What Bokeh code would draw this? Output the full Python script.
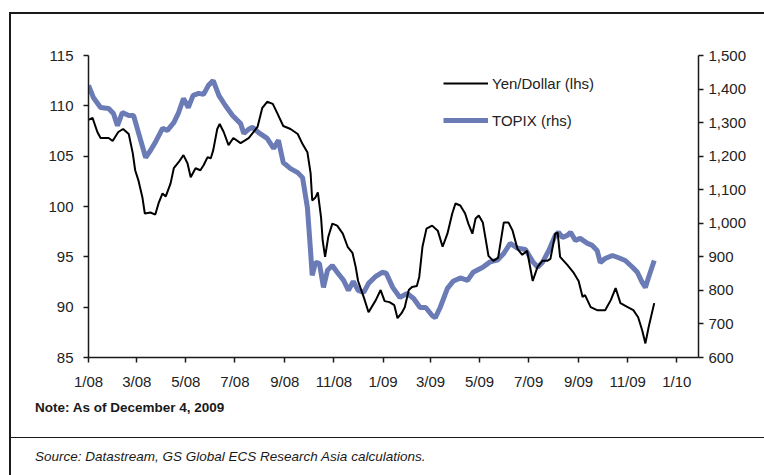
import pandas as pd
from bokeh.plotting import figure
from bokeh.layouts import column
from bokeh.models import (Range1d, LinearAxis, FixedTicker, NumeralTickFormatter,
                          DatetimeTickFormatter, MonthsTicker, Legend, LegendItem, Div)
from bokeh.embed import file_html
from bokeh.resources import INLINE

# ---------------- data ----------------
yen_dates = [
    "2008-01-01", "2008-01-06", "2008-01-12", "2008-01-16", "2008-01-26", "2008-01-31",
    "2008-02-07", "2008-02-13", "2008-02-20", "2008-02-25", "2008-02-28", "2008-03-03",
    "2008-03-08", "2008-03-11", "2008-03-18", "2008-03-24", "2008-03-28", "2008-04-02",
    "2008-04-06", "2008-04-12", "2008-04-16", "2008-04-22", "2008-04-28", "2008-05-03",
    "2008-05-07", "2008-05-13", "2008-05-19", "2008-05-23", "2008-05-28", "2008-06-01",
    "2008-06-04", "2008-06-09", "2008-06-12", "2008-06-17", "2008-06-23", "2008-06-29",
    "2008-07-08", "2008-07-18", "2008-07-29", "2008-08-04", "2008-08-10", "2008-08-17",
    "2008-08-23", "2008-08-30", "2008-09-08", "2008-09-17", "2008-09-23", "2008-09-29",
    "2008-10-03", "2008-10-05", "2008-10-09", "2008-10-12", "2008-10-16", "2008-10-18",
    "2008-10-21", "2008-10-25", "2008-10-30", "2008-11-05", "2008-11-12", "2008-11-18",
    "2008-11-24", "2008-11-28", "2008-12-01", "2008-12-08", "2008-12-14", "2008-12-23",
    "2008-12-29", "2009-01-03", "2009-01-09", "2009-01-15", "2009-01-19", "2009-01-24",
    "2009-01-28", "2009-02-02", "2009-02-06", "2009-02-12", "2009-02-15", "2009-02-19",
    "2009-02-24", "2009-03-03", "2009-03-10", "2009-03-16", "2009-03-22", "2009-03-28",
    "2009-04-01", "2009-04-07", "2009-04-13", "2009-04-17", "2009-04-22", "2009-04-26",
    "2009-04-30", "2009-05-05", "2009-05-08", "2009-05-12", "2009-05-18", "2009-05-24",
    "2009-05-31", "2009-06-06", "2009-06-11", "2009-06-17", "2009-06-23", "2009-06-29",
    "2009-07-06", "2009-07-12", "2009-07-18", "2009-07-24", "2009-07-28", "2009-08-03",
    "2009-08-06", "2009-08-09", "2009-08-18", "2009-08-26", "2009-09-01", "2009-09-06",
    "2009-09-09", "2009-09-16", "2009-09-24", "2009-10-04", "2009-10-11", "2009-10-17",
    "2009-10-23", "2009-11-01", "2009-11-08", "2009-11-14", "2009-11-19", "2009-11-23",
    "2009-11-27", "2009-12-04",
]
yen_values = [
    108.6, 108.8, 107.4, 106.8, 106.8, 106.5,
    107.4, 107.7, 107.2, 105.3, 103.6, 102.6,
    100.9, 99.3, 99.4, 99.2, 100.3, 101.3,
    101.0, 102.3, 103.8, 104.4, 105.1, 104.3,
    102.9, 103.8, 103.6, 104.1, 104.9, 104.8,
    105.6, 107.7, 108.2, 107.4, 106.1, 106.8,
    106.3, 106.8, 107.9, 109.8, 110.4, 110.2,
    109.2, 108.0, 107.7, 107.2, 106.2, 105.4,
    103.3, 100.6, 100.9, 101.4, 98.9, 96.6,
    95.0, 97.0, 98.3, 98.1, 97.3, 96.0,
    95.4, 94.0, 92.6, 91.0, 89.5, 90.7,
    91.7, 90.6, 90.5, 90.2, 88.9, 89.4,
    90.0, 91.7, 92.0, 92.1, 93.0, 96.0,
    97.8, 98.1, 97.6, 96.0, 97.3, 99.3,
    100.3, 100.1, 99.3, 98.3, 97.3, 98.8,
    99.1, 98.4, 97.0, 95.1, 94.6, 94.9,
    98.4, 98.4, 97.6, 95.8, 95.2, 95.6,
    92.6, 94.0, 94.6, 94.6, 94.8, 97.3,
    97.4, 95.0, 94.2, 93.4, 92.6, 91.0,
    91.2, 90.0, 89.7, 89.7, 90.7, 91.9,
    90.4, 90.0, 89.7, 89.0, 87.7, 86.4,
    88.0, 90.4,
]

topix_dates = [
    "2008-01-01", "2008-01-07", "2008-01-16", "2008-01-26", "2008-02-01", "2008-02-06",
    "2008-02-12", "2008-02-20", "2008-02-26", "2008-03-03", "2008-03-12", "2008-03-18",
    "2008-03-24", "2008-04-02", "2008-04-08", "2008-04-16", "2008-04-22", "2008-04-28",
    "2008-05-04", "2008-05-10", "2008-05-17", "2008-05-23", "2008-05-29", "2008-06-04",
    "2008-06-11", "2008-06-19", "2008-06-28", "2008-07-08", "2008-07-12", "2008-07-18",
    "2008-07-23", "2008-07-30", "2008-08-10", "2008-08-18", "2008-08-24", "2008-08-30",
    "2008-09-08", "2008-09-17", "2008-09-23", "2008-09-29", "2008-10-02", "2008-10-05",
    "2008-10-09", "2008-10-14", "2008-10-19", "2008-10-24", "2008-10-30", "2008-11-05",
    "2008-11-13", "2008-11-19", "2008-11-25", "2008-12-01", "2008-12-08", "2008-12-14",
    "2008-12-23", "2008-12-31", "2009-01-05", "2009-01-13", "2009-01-22", "2009-01-31",
    "2009-02-08", "2009-02-16", "2009-02-23", "2009-03-03", "2009-03-07", "2009-03-13",
    "2009-03-22", "2009-03-29", "2009-04-07", "2009-04-16", "2009-04-23", "2009-05-05",
    "2009-05-14", "2009-05-23", "2009-05-31", "2009-06-08", "2009-06-17", "2009-06-27",
    "2009-07-06", "2009-07-12", "2009-07-18", "2009-07-26", "2009-08-03", "2009-08-07",
    "2009-08-12", "2009-08-18", "2009-08-22", "2009-08-28", "2009-09-03", "2009-09-12",
    "2009-09-18", "2009-09-24", "2009-09-28", "2009-10-04", "2009-10-13", "2009-10-20",
    "2009-10-29", "2009-11-07", "2009-11-13", "2009-11-19", "2009-11-23", "2009-11-27",
    "2009-12-04",
]
topix_values = [
    1411, 1375, 1345, 1342, 1327, 1291,
    1330, 1321, 1321, 1271, 1196, 1217,
    1241, 1283, 1277, 1300, 1330, 1372,
    1345, 1381, 1387, 1384, 1411, 1425,
    1381, 1351, 1321, 1297, 1268, 1280,
    1286, 1271, 1253, 1223, 1247, 1181,
    1163, 1151, 1136, 1047, 949, 845,
    883, 880, 809, 860, 874, 854,
    830, 800, 827, 800, 794, 821,
    842, 854, 851, 809, 779, 791,
    776, 749, 749, 725, 719, 749,
    806, 827, 837, 830, 854, 869,
    885, 890, 910, 940, 926, 922,
    886, 869, 883, 919, 964, 973,
    958, 964, 973, 949, 955, 940,
    934, 919, 883, 895, 904, 898,
    889, 869, 854, 824, 809, 839,
    889,
]

left_ticks = [85, 90, 95, 100, 105, 110, 115]
right_ticks = [600, 700, 800, 900, 1000, 1100, 1200, 1300, 1400, 1500]
x_start, x_end = "2008-01-01", "2010-01-28"

note_text = "Note: As of December 4, 2009"
source_text = "Source: Datastream, GS Global ECS Research Asia calculations."

FONT = "Liberation Sans"
INK = "#1a1a1a"

# ---------------- main chart ----------------
W = 753
p = figure(width=W, height=378, x_axis_type="datetime",
           x_range=Range1d(pd.Timestamp(x_start), pd.Timestamp(x_end)),
           y_range=Range1d(85, 115),
           output_backend="svg", toolbar_location=None,
           min_border_left=77, min_border_right=66, min_border_top=41,
           min_border_bottom=35)
p.outline_line_color = None
p.xgrid.visible = False
p.ygrid.visible = False

p.extra_y_ranges = {"topix": Range1d(600, 1500)}
raxis = LinearAxis(y_range_name="topix", ticker=FixedTicker(ticks=right_ticks),
                   formatter=NumeralTickFormatter(format="0,0"))
p.add_layout(raxis, "right")

p.yaxis[0].ticker = FixedTicker(ticks=left_ticks)
p.xaxis[0].ticker = MonthsTicker(months=[0, 2, 4, 6, 8, 10])
p.xaxis[0].formatter = DatetimeTickFormatter(months="%-m/%y", days="%-m/%y", years="%-m/%y")

for ax in [p.xaxis[0], p.yaxis[0], raxis]:
    ax.axis_line_color = INK
    ax.axis_line_width = 1.5
    ax.major_tick_line_color = INK
    ax.major_tick_line_width = 1.5
    ax.major_tick_out = 5
    ax.major_tick_in = 0
    ax.minor_tick_line_color = None
    ax.major_label_text_font = FONT
    ax.major_label_text_font_size = "15px"
    ax.major_label_text_color = "#222222"
p.xaxis[0].major_label_standoff = 10
p.yaxis[0].major_label_standoff = 10
raxis.major_label_standoff = 5

r_topix = p.line(x=pd.to_datetime(topix_dates), y=topix_values, y_range_name="topix",
                 line_color="#6a7bb5", line_width=5)
r_yen = p.line(x=pd.to_datetime(yen_dates), y=yen_values, line_color="black", line_width=2)

legend = Legend(items=[LegendItem(label="Yen/Dollar (lhs)", renderers=[r_yen]),
                       LegendItem(label="TOPIX (rhs)", renderers=[r_topix])],
                location=(355, 227), glyph_width=45, glyph_height=20,
                label_height=20, spacing=17, padding=0, margin=0,
                label_standoff=4, border_line_color=None, background_fill_alpha=0,
                label_text_font=FONT, label_text_font_size="15px",
                label_text_color="#222222")
p.add_layout(legend)

# ---------------- notes panel ----------------
notes_html = (
    f'<div style="position:relative;width:{W}px;height:83px;font-family:\'{FONT}\';color:{INK};">'
    f'<div style="position:absolute;left:24px;top:6px;font-size:13.5px;font-weight:bold;'
    f'white-space:nowrap;">{note_text}</div>'
    f'<div style="position:absolute;left:0px;top:45px;width:{W}px;height:0px;'
    f'border-top:1.5px solid {INK};"></div>'
    f'<div style="position:absolute;left:24px;top:55px;font-size:13.5px;font-style:italic;'
    f'white-space:nowrap;">{source_text}</div>'
    '</div>'
)
notes = Div(text=notes_html, width=W, height=83, margin=0)

layout = column(p, notes, spacing=0,
                styles={"border-left": "2px solid #1a1a1a", "border-top": "2px solid #1a1a1a",
                        "margin-left": "9px", "margin-top": "12px"})

open("out.html", "w").write(file_html(layout, INLINE))
